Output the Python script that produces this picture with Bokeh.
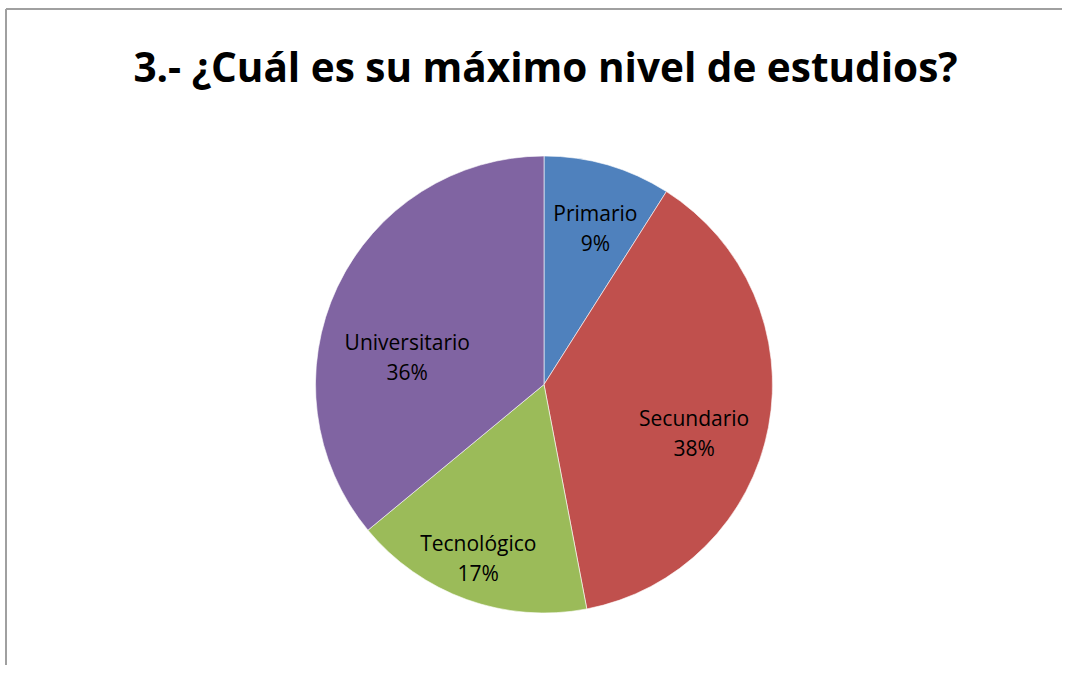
import math
from bokeh.plotting import figure
from bokeh.models import ColumnDataSource, Range1d
from bokeh.core.properties import value
from bokeh.embed import file_html
from bokeh.resources import INLINE

title = "3.- ¿Cuál es su máximo nivel de estudios?"
categories = ["Primario", "Secundario", "Tecnológico", "Universitario"]
values = [9, 38, 17, 36]
colors = ["#4F81BD", "#C0504D", "#9BBB59", "#8064A2"]
# label placement: fraction of radius and angle nudge (degrees)
label_r = [0.72, 0.69, 0.81, 0.61]
label_nudge = [-2, -7, -1, 14]

W, H = 1062, 665
cx, cy, R = 543.5, H - 384.0, 228.5

p = figure(width=W, height=H, output_backend="svg", toolbar_location=None,
           x_range=Range1d(0, W), y_range=Range1d(0, H), min_border=0,
           background_fill_color="white", border_fill_color="white")
p.axis.visible = False
p.grid.visible = False
p.outline_line_color = None

# chart border (left and top edges visible)
p.segment(x0=[5.5, 5.5], y0=[-10, H - 8.5], x1=[5.5, W + 10], y1=[H - 8.5, H - 8.5],
          line_color="#A0A0A0", line_width=2)

total = sum(values)
starts, ends, mids = [], [], []
a = math.pi / 2
for v in values:
    span = 2 * math.pi * v / total
    starts.append(a - span)
    ends.append(a)
    mids.append(a - span / 2)
    a -= span

src = ColumnDataSource(dict(start=starts, end=ends, color=colors, cat=categories))
p.wedge(x=cx, y=cy, radius=R, start_angle="start", end_angle="end",
        fill_color="color", line_color="white", line_width=0.6, source=src)

lx, ly, pct = [], [], []
for m, f, n, v in zip(mids, label_r, label_nudge, values):
    ang = m + math.radians(n)
    lx.append(cx + R * f * math.cos(ang))
    ly.append(cy + R * f * math.sin(ang))
    pct.append(f"{round(100 * v / total)}%")

lsrc = ColumnDataSource(dict(x=lx, y=ly, cat=categories, pct=pct))
p.text(x="x", y="y", text="cat", source=lsrc, y_offset=-15,
       text_font=value("Open Sans"), text_font_size="21px", text_color="black",
       text_align="center", text_baseline="middle")
p.text(x="x", y="y", text="pct", source=lsrc, y_offset=15,
       text_font=value("Open Sans"), text_font_size="21px", text_color="black",
       text_align="center", text_baseline="middle")

p.text(x=[545], y=[H - 66], text=[title], text_font=value("Open Sans"),
       text_font_size="40.5px", text_font_style="bold", text_color="black",
       text_align="center", text_baseline="middle")

open("out.html", "w").write(file_html(p, INLINE))
